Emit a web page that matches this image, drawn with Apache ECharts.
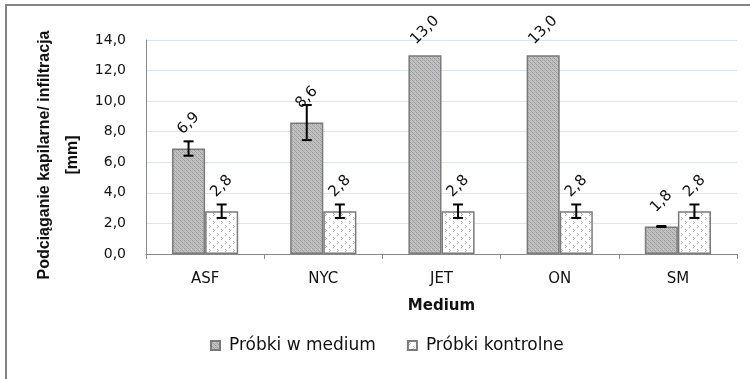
<!DOCTYPE html>
<html>
<head>
<meta charset="utf-8">
<script src="https://cdn.jsdelivr.net/npm/echarts@6/dist/echarts.min.js"></script>
<style>
html,body{margin:0;padding:0;background:#fff;}
#chart{width:750px;height:379px;}
</style>
</head>
<body>
<div id="chart"></div>
<script>
// ---- data ----
var categories = ['ASF', 'NYC', 'JET', 'ON', 'SM'];
var seriesNames = ['Próbki w medium', 'Próbki kontrolne'];
var mediumValues = [6.9, 8.6, 13.0, 13.0, 1.8];
var mediumErrors = [0.47, 1.15, 0, 0, 0.03];
var controlValues = [2.8, 2.8, 2.8, 2.8, 2.8];
var controlErrors = [0.44, 0.44, 0.44, 0.44, 0.44];
var yTicks = [0, 2, 4, 6, 8, 10, 12, 14];

function fmt(v) { return v.toFixed(1).replace('.', ','); }

// ---- patterns ----
function makePattern(w, h, bg, dots) {
  var c = document.createElement('canvas');
  c.width = w; c.height = h;
  var ctx = c.getContext('2d');
  ctx.fillStyle = bg; ctx.fillRect(0, 0, w, h);
  dots.forEach(function (d) { ctx.fillStyle = d[2]; ctx.fillRect(d[0], d[1], 1, 1); });
  return c;
}
var hatch = makePattern(4, 4, '#c2c2c2', [
  [0,0,'#9a9a9a'],[1,1,'#a4a4a4'],[2,2,'#9a9a9a'],[3,3,'#a4a4a4'],
  [2,0,'#b0b0b0'],[0,2,'#b0b0b0']
]);
var dotted = makePattern(8, 8, '#ffffff', [
  [1,1,'#b4b4b4'],[2,2,'#bcbcbc'],[1,3,'#b4b4b4'],
  [5,5,'#b4b4b4'],[6,6,'#bcbcbc'],[5,7,'#b4b4b4']
]);

var barFrac = 0.56; // fraction of band used by the two bars
var errData = [];
mediumValues.forEach(function (v, i) {
  if (mediumErrors[i] > 0) errData.push([i, v - mediumErrors[i], v + mediumErrors[i], 0]);
});
controlValues.forEach(function (v, i) {
  if (controlErrors[i] > 0) errData.push([i, v - controlErrors[i], v + controlErrors[i], 1]);
});

var chart = echarts.init(document.getElementById('chart'));
var font = 'DejaVu Sans';
var labelCfg = {
  show: true, position: 'top', distance: 25, rotate: 45,
  align: 'center', verticalAlign: 'middle',
  fontFamily: font, fontSize: 15, color: '#111',
  formatter: function (p) { return fmt(p.value); }
};
chart.setOption({
  animation: false,
  backgroundColor: '#fff',
  graphic: [{
    type: 'rect', shape: { x: 6, y: 5, width: 800, height: 400 },
    style: { fill: 'none', stroke: '#858585', lineWidth: 2 }, silent: true
  }],
  grid: { left: 146, right: 13, top: 40, bottom: 125 },
  legend: {
    data: seriesNames, bottom: 20, left: 205,
    icon: 'rect', itemWidth: 9, itemHeight: 9, itemGap: 31,
    textStyle: { fontFamily: font, fontSize: 17, color: '#111', padding: [0, 0, 0, 4] }
  },
  xAxis: {
    type: 'category', data: categories,
    name: 'Medium', nameLocation: 'middle', nameGap: 45, nameMoveOverlap: false,
    nameTextStyle: { fontFamily: font, fontSize: 15, fontWeight: 'bold', color: '#111' },
    axisLine: { lineStyle: { color: '#8a8a8a', width: 1 } },
    axisTick: { show: true, length: 5, lineStyle: { color: '#8a8a8a' } },
    axisLabel: { fontFamily: font, fontSize: 15, color: '#111', margin: 18 }
  },
  yAxis: {
    type: 'value', min: yTicks[0], max: yTicks[yTicks.length - 1], interval: 2,
    name: 'Podciąganie kapilarne/ infiltracja\n[mm]',
    nameLocation: 'middle', nameRotate: 90, nameGap: 59, nameMoveOverlap: false,
    nameTextStyle: { fontFamily: 'Liberation Sans', fontSize: 16, fontWeight: 'bold', color: '#111', lineHeight: 28, padding: [0, 16, 0, 0] },
    axisLine: { show: true, lineStyle: { color: '#8a8a8a', width: 1 } },
    axisTick: { show: false },
    splitLine: { lineStyle: { color: '#dbe5f0', width: 1 } },
    axisLabel: { fontFamily: font, fontSize: 14, color: '#111', margin: 20, formatter: function (v) { return fmt(v); } }
  },
  series: [{
    name: seriesNames[0], type: 'bar', data: mediumValues,
    barGap: '0%', barCategoryGap: '44%',
    itemStyle: { color: { image: hatch, repeat: 'repeat' }, borderColor: '#7a7a7a', borderWidth: 1.5 },
    label: labelCfg
  }, {
    name: seriesNames[1], type: 'bar', data: controlValues,
    itemStyle: { color: { image: dotted, repeat: 'repeat' }, borderColor: '#7a7a7a', borderWidth: 1.5 },
    label: labelCfg
  }, {
    type: 'custom', name: 'err', data: errData, z: 10,
    encode: { x: 0, y: [1, 2] },
    renderItem: function (params, api) {
      var ci = api.value(0);
      var band = api.size([1, 0])[0];
      var off = (api.value(3) === 0 ? -1 : 1) * band * barFrac / 4;
      var lo = api.coord([ci, api.value(1)]);
      var hi = api.coord([ci, api.value(2)]);
      var x = lo[0] + off;
      var cw = 5;
      var st = { stroke: '#000', lineWidth: 2 };
      return { type: 'group', children: [
        { type: 'line', shape: { x1: x, y1: hi[1], x2: x, y2: lo[1] }, style: st },
        { type: 'line', shape: { x1: x - cw, y1: hi[1], x2: x + cw, y2: hi[1] }, style: st },
        { type: 'line', shape: { x1: x - cw, y1: lo[1], x2: x + cw, y2: lo[1] }, style: st }
      ] };
    }
  }]
});
</script>
</body>
</html>
